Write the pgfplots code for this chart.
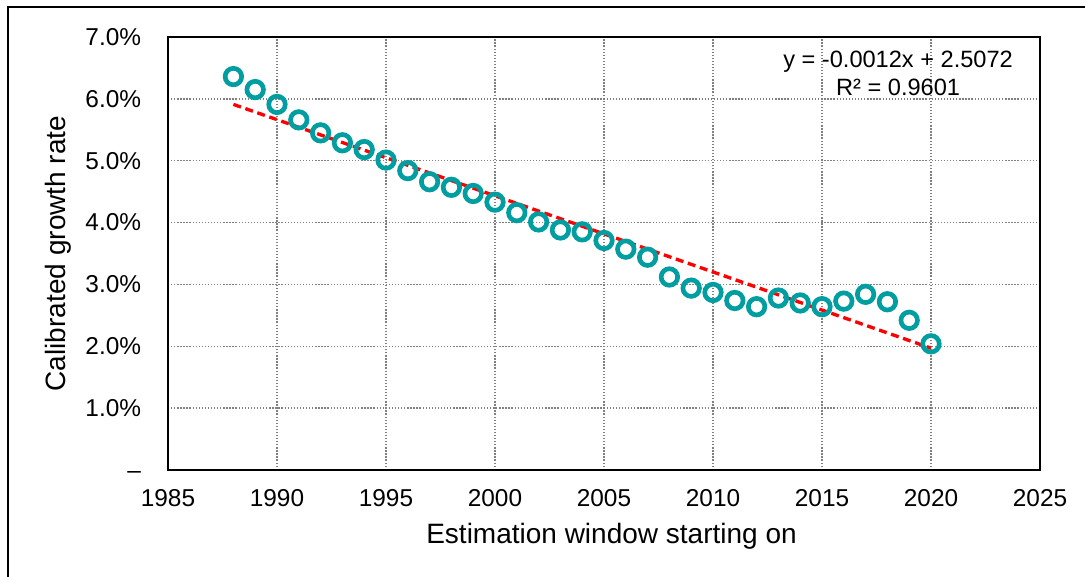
\documentclass[border=0pt]{standalone}
\usepackage{fontspec}
\setmainfont{Liberation Sans}
\usepackage{pgfplots}
\pgfplotsset{compat=1.18}
\definecolor{teal1}{RGB}{0,158,160}
\begin{document}
\begin{tikzpicture}
\useasboundingbox (0,0) rectangle (813.75pt,432.75pt);
\draw[line width=1.4pt] (6pt,-2pt) -- (6pt,427.5pt) -- (820pt,427.5pt);
\begin{axis}[
  at={(126pt,80.25pt)}, anchor=south west,
  scale only axis, width=654pt, height=324.75pt,
  xmin=1985, xmax=2025, ymin=0, ymax=7,
  xtick={1985,1990,...,2025},
  ytick={0,1,2,3,4,5,6,7},
  yticklabels={\vphantom{0}--\hspace{6pt}, 1.0\%, 2.0\%, 3.0\%, 4.0\%, 5.0\%, 6.0\%, 7.0\%},
  /pgf/number format/1000 sep={},
  /pgf/number format/assume math mode=true,
  major tick length=0pt,
  axis line style={line width=1.5pt},
  grid=major,
  major grid style={gray, line width=1pt, dash pattern=on 1pt off 1.3pt},
  ticklabel style={font=\fontsize{18.3}{22}\selectfont},
  xticklabel style={anchor=center, yshift=-21pt},
  yticklabel style={anchor=east, inner sep=0pt, xshift=-20pt},
  xlabel={Estimation window starting on},
  ylabel={Calibrated growth rate},
  label style={font=\fontsize{21}{25}\selectfont},
  xlabel style={at={(axis description cs:0.5086,0)}, anchor=center, yshift=-50pt},
  ylabel style={at={(axis description cs:-0.1261,0.5)}, anchor=center},
  clip=false,
]
\addplot[only marks, mark=o, mark size=6.2pt, mark options={line width=3.5pt, draw=teal1}] coordinates {
(1988,6.36) (1989,6.15) (1990,5.91) (1991,5.66) (1992,5.45) (1993,5.29) (1994,5.18) (1995,5.01)
(1996,4.84) (1997,4.66) (1998,4.57) (1999,4.47) (2000,4.33) (2001,4.16) (2002,4.01) (2003,3.88)
(2004,3.85) (2005,3.71) (2006,3.57) (2007,3.44) (2008,3.12) (2009,2.94) (2010,2.87) (2011,2.74)
(2012,2.64) (2013,2.78) (2014,2.70) (2015,2.64) (2016,2.73) (2017,2.84) (2018,2.72) (2019,2.42)
(2020,2.04)
};
\addplot[red, line width=2.5pt, dash pattern=on 6pt off 3.5pt] coordinates {(1988,5.91) (2020,1.97)};
\node[font=\fontsize{17.7}{21}\selectfont, align=center, inner sep=0pt] at (axis cs:2018.49,6.41) {y = -0.0012x + 2.5072\\R² = 0.9601};
\end{axis}
\end{tikzpicture}
\end{document}
